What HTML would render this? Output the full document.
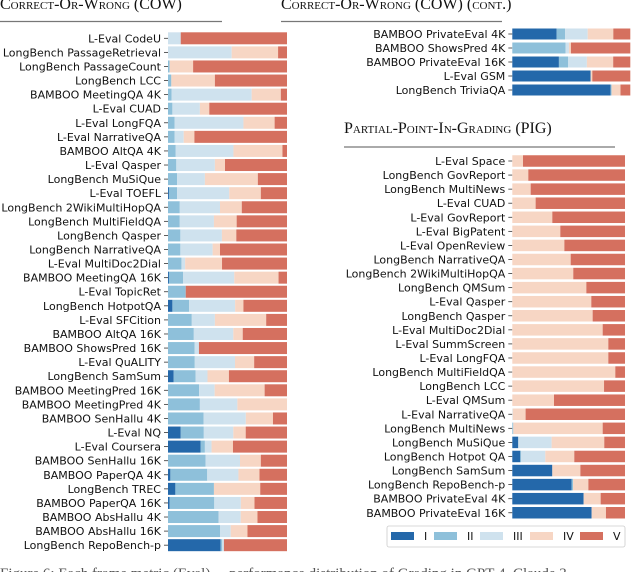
<!DOCTYPE html>
<html><head><meta charset="utf-8"><style>
html,body{margin:0;padding:0;background:#fff;width:640px;height:572px;overflow:hidden}
svg{display:block}
.lbl{font-family:"DejaVu Sans","Liberation Sans",sans-serif;font-size:11px;fill:#111}
.ttl{font-family:"Liberation Serif",serif;font-variant:small-caps;font-size:16px;fill:#111}
</style></head><body>
<svg id="chart" width="640" height="572" viewBox="0 0 640 572" xmlns="http://www.w3.org/2000/svg">
<text class="ttl" x="0" y="9">Correct-Or-Wrong (COW)</text>
<line x1="0" y1="21.5" x2="222" y2="21.5" stroke="#777" stroke-width="1.3"/>
<text class="ttl" x="281" y="9">Correct-Or-Wrong (COW) (cont.)</text>
<line x1="281" y1="21.5" x2="502" y2="21.5" stroke="#777" stroke-width="1.3"/>
<text class="ttl" x="344" y="133">Partial-Point-In-Grading (PIG)</text>
<line x1="344" y1="147" x2="615" y2="147" stroke="#777" stroke-width="1.3"/>
<g id="panels"></g>
<g id="legend"></g>
<text x="0" y="578" font-family="Liberation Serif,serif" font-size="15" fill="#555">Figure 6: Each frame metric (Eval) ... performance distribution of Grading in GPT-4, Claude 3</text>
</svg>
<script>
const grades = ["I","II","III","IV","V"];
const colors = ["#2468aa","#8ec0da","#cfe2ee","#f7d6c4","#d5705f"];

const cowLabels = ["L-Eval CodeU","LongBench PassageRetrieval","LongBench PassageCount","LongBench LCC","BAMBOO MeetingQA 4K","L-Eval CUAD","L-Eval LongFQA","L-Eval NarrativeQA","BAMBOO AltQA 4K","L-Eval Qasper","LongBench MuSiQue","L-Eval TOEFL","LongBench 2WikiMultiHopQA","LongBench MultiFieldQA","LongBench Qasper","LongBench NarrativeQA","L-Eval MultiDoc2Dial","BAMBOO MeetingQA 16K","L-Eval TopicRet","LongBench HotpotQA","L-Eval SFCition","BAMBOO AltQA 16K","BAMBOO ShowsPred 16K","L-Eval QuALITY","LongBench SamSum","BAMBOO MeetingPred 16K","BAMBOO MeetingPred 4K","BAMBOO SenHallu 4K","L-Eval NQ","L-Eval Coursera","BAMBOO SenHallu 16K","BAMBOO PaperQA 4K","LongBench TREC","BAMBOO PaperQA 16K","BAMBOO AbsHallu 4K","BAMBOO AbsHallu 16K","LongBench RepoBench-p"];
const cowI   = [0,0,0,0,0,0,0,0,0,0,0,.008,0,0,0,0,0,.008,0,.037,0,0,0,0,.048,0,0,0,.107,.273,0,.02,.062,.014,0,0,.442];
const cowII  = [0,0,.014,.028,.03,.037,.056,.056,.065,.07,.076,.068,.099,.099,.104,.104,.113,.118,.149,.141,.2,.217,.223,.225,.183,.262,.268,.299,.194,.037,.315,.31,.324,.375,.425,.437,.014];
const cowIII = [.107,.535,0,0,.673,.231,.578,.076,.485,.324,.234,.439,.338,.287,.349,.271,.031,.431,0,.386,.194,.332,.037,.338,.101,.13,.315,.355,.248,.056,.29,.262,0,.223,.186,.09,.014];
const cowIV  = [0,.39,.197,.366,.245,.079,.262,.09,.412,.085,.445,.265,.183,.191,.121,.062,.31,.372,0,.07,.431,.079,0,.161,.18,.42,.417,.228,.104,.18,.175,.177,.389,.115,.141,.141,0];
const cowV   = [.893,.075,.789,.606,.052,.653,.104,.778,.038,.521,.245,.22,.38,.423,.426,.563,.546,.071,.851,.366,.175,.372,.74,.276,.488,.188,0,.118,.347,.454,.22,.231,.225,.273,.248,.332,.53];

const contLabels = ["BAMBOO PrivateEval 4K","BAMBOO ShowsPred 4K","BAMBOO PrivateEval 16K","L-Eval GSM","LongBench TriviaQA"];
const contI   = [.376,0,.395,.664,.833];
const contII  = [.071,.452,.079,0,.008];
const contIII = [.192,.028,.158,0,0];
const contIV  = [.217,.017,.223,.014,.076];
const contV   = [.144,.503,.145,.322,.083];

const pigLabels = ["L-Eval Space","LongBench GovReport","LongBench MultiNews","L-Eval CUAD","L-Eval GovReport","L-Eval BigPatent","L-Eval OpenReview","LongBench NarrativeQA","LongBench 2WikiMultiHopQA","LongBench QMSum","L-Eval Qasper","LongBench Qasper","L-Eval MultiDoc2Dial","L-Eval SummScreen","L-Eval LongFQA","LongBench MultiFieldQA","LongBench LCC","L-Eval QMSum","L-Eval NarrativeQA","LongBench MultiNews","LongBench MuSiQue","LongBench Hotpot QA","LongBench SamSum","LongBench RepoBench-p","BAMBOO PrivateEval 4K","BAMBOO PrivateEval 16K"];
const pigI   = [0,0,0,0,0,0,0,0,0,0,0,0,0,0,0,0,0,0,0,0,.053,.071,.355,.527,.633,.704];
const pigII  = [0,0,0,0,0,0,0,0,0,0,0,0,0,0,0,0,0,0,0,.009,0,.006,0,.012,0,0];
const pigIII = [0,0,0,0,0,0,0,0,0,0,0,0,0,0,0,0,0,0,.004,0,.296,.216,0,0,0,0];
const pigIV  = [.095,.142,.163,.207,.355,.426,.462,.518,.541,.657,.701,.713,.802,.852,.852,.914,.814,.37,.114,.793,.467,.257,.249,.136,.151,.127];
const pigV   = [.905,.858,.837,.793,.645,.574,.538,.482,.459,.343,.299,.287,.198,.148,.148,.086,.186,.63,.882,.198,.184,.45,.396,.325,.216,.169];

const NS = "http://www.w3.org/2000/svg";
const root = document.getElementById("panels");
function mk(tag, attrs, parent){ const e=document.createElementNS(NS,tag); for(const k in attrs) e.setAttribute(k,attrs[k]); parent.appendChild(e); return e; }

function panel(name, labels, series, x0, x1, y0, pitch, bh){
  const g = mk("g",{},root);
  
  
  const xs = v => x0 + v*(x1-x0);
  const ys = i => y0 + i*pitch;
  labels.forEach((lab,i)=>{
    const y = ys(i);
    const t = mk("text",{class:"lbl",x:x0-7,y:y+4,"text-anchor":"end"},g);
    t.textContent = lab;
    
    
    const tk = mk("line",{x1:x0-4,x2:x0,y1:y,y2:y,stroke:"#333","stroke-width":0.8},g);
    
    
    let acc = 0;
    series.forEach((arr,s)=>{
      const v = arr[i];
      if(v>0){
        const r = mk("rect",{x:xs(acc),y:y-bh/2,width:xs(acc+v)-xs(acc),height:bh,fill:colors[s]},g);
        
        
      }
      acc += v;
    });
  });
}
panel("cow-panel", cowLabels, [cowI,cowII,cowIII,cowIV,cowV], 168, 287, 38.3, 14.08, 12);
panel("cow-cont-panel", contLabels, [contI,contII,contIII,contIV,contV], 512.3, 630.3, 34, 14, 11);
panel("pig-panel", pigLabels, [pigI,pigII,pigIII,pigIV,pigV], 512.3, 625, 161, 14.07, 11.5);

const lg = document.getElementById("legend");
const box = mk("rect",{x:387,y:526,width:238,height:21,rx:2,fill:"#fff",stroke:"#ccc","stroke-width":0.8},lg);


const lx = [391,434,480,530,580];
grades.forEach((gname,i)=>{
  const sw = mk("rect",{x:lx[i],y:532,width:23,height:8,fill:colors[i]},lg);
  
  
  const t = mk("text",{class:"lbl",x:lx[i]+33,y:540,"font-size":"12"},lg);
  t.textContent = gname;
  
  
});
</script>
</body></html>
